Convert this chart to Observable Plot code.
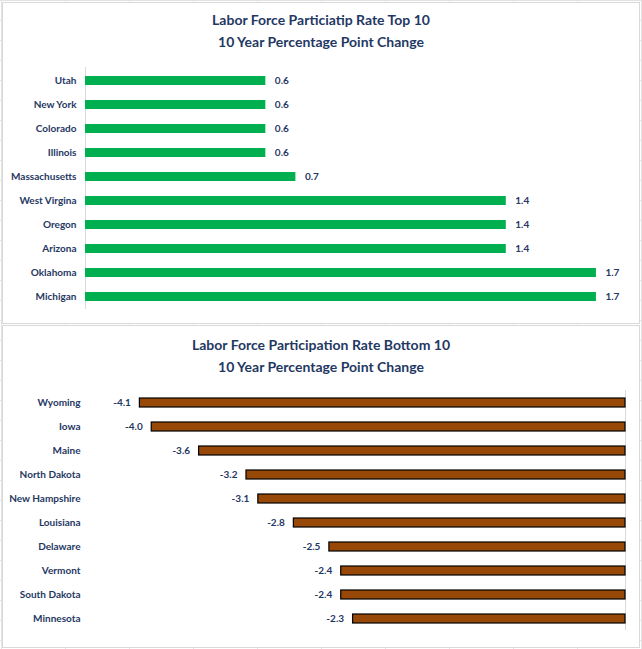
<!DOCTYPE html>
<html>
<head>
<meta charset="utf-8">
<script src="https://cdn.jsdelivr.net/npm/d3@7"></script>
<script src="https://cdn.jsdelivr.net/npm/@observablehq/plot@0.6"></script>
<style>
  html, body { margin: 0; padding: 0; }
  body {
    width: 642px; height: 649px; position: relative; overflow: hidden;
    background-color: #fff;
    background-image:
      linear-gradient(to right, #e3e3e3 1px, transparent 1px),
      linear-gradient(to bottom, #e3e3e3 1px, transparent 1px);
    background-size: 64px 20px, 64px 20px;
    background-position: 1px 0, 0 0;
    font-family: Lato, "Open Sans", sans-serif;
  }
  .panel {
    position: absolute; left: 2px; width: 636px;
    background: #fff; border: 1px solid #d9d9d9;
  }
  .title {
    position: absolute; left: 0; width: 642px; text-align: center;
    color: #1F3864; font-weight: bold; font-size: 14px; line-height: 22px;
  }
  .chart { position: absolute; left: 0; }
</style>
</head>
<body>
<div class="panel" style="top:2px;height:320px;"></div>
<div class="panel" style="top:325px;height:321px;"></div>
<div class="title" style="top:9px;">Labor Force Particiatip Rate Top 10<br>10 Year Percentage Point Change</div>
<div class="title" style="top:334px;">Labor Force Participation Rate Bottom 10<br>10 Year Percentage Point Change</div>
<div id="top" class="chart" style="top:55px;"></div>
<div id="bottom" class="chart" style="top:385px;"></div>
<script>
const topStates = ["Utah", "New York", "Colorado", "Illinois", "Massachusetts", "West Virgina", "Oregon", "Arizona", "Oklahoma", "Michigan"];
const topValues = [0.6, 0.6, 0.6, 0.6, 0.7, 1.4, 1.4, 1.4, 1.7, 1.7];
const bottomStates = ["Wyoming", "Iowa", "Maine", "North Dakota", "New Hampshire", "Louisiana", "Delaware", "Vermont", "South Dakota", "Minnesota"];
const bottomValues = [-4.1, -4.0, -3.6, -3.2, -3.1, -2.8, -2.5, -2.4, -2.4, -2.3];

const navy = "#1F3864";
const topData = topStates.map((s, i) => ({state: s, value: topValues[i]}));
const bottomData = bottomStates.map((s, i) => ({state: s, value: bottomValues[i]}));

const common = {
  width: 642,
  style: {background: "transparent", color: navy, fontFamily: "Lato, 'Open Sans', sans-serif", fontSize: "10px", fontWeight: "bold", overflow: "visible"}
};

const topPlot = Plot.plot({
  ...common,
  height: 265,
  marginTop: 12,
  marginBottom: 11,
  marginLeft: 85,
  marginRight: 16,
  x: {domain: [0, 1.8], axis: null},
  y: {domain: topStates, paddingInner: 0.63, paddingOuter: 0.315, label: null},
  marks: [
    Plot.ruleX([0], {stroke: "#d9d9d9", strokeWidth: 1}),
    Plot.barX(topData, {x: "value", y: "state", fill: "#00B050"}),
    Plot.text(topData, {x: "value", y: "state", text: d => d.value.toFixed(1), dx: 9, textAnchor: "start", fill: navy}),
    Plot.axisY({tickSize: 0, tickPadding: 9, label: null})
  ]
});
document.getElementById("top").appendChild(topPlot);

const bottomPlot = Plot.plot({
  ...common,
  height: 255,
  marginTop: 5,
  marginBottom: 10,
  marginLeft: 92,
  marginRight: 17,
  x: {domain: [-4.5, 0], axis: null},
  y: {domain: bottomStates, paddingInner: 0.63, paddingOuter: 0.315, label: null},
  marks: [
    Plot.ruleX([0], {stroke: "#d9d9d9", strokeWidth: 1}),
    Plot.barX(bottomData, {x1: "value", x2: 0, y: "state", fill: "#974806", stroke: "#000", strokeWidth: 1.2}),
    Plot.text(bottomData, {x: "value", y: "state", text: d => d.value.toFixed(1), dx: -9, textAnchor: "end", fill: navy}),
    Plot.axisY({tickSize: 0, tickPadding: 12, label: null})
  ]
});
document.getElementById("bottom").appendChild(bottomPlot);
</script>
</body>
</html>
